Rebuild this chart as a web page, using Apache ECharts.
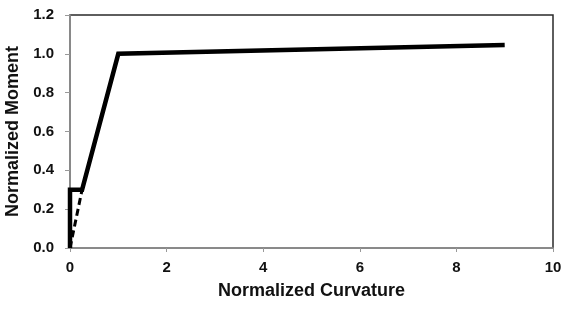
<!DOCTYPE html>
<html>
<head>
<meta charset="utf-8">
<script src="https://cdn.jsdelivr.net/npm/echarts@6/dist/echarts.min.js"></script>
<style>
  html, body { margin: 0; padding: 0; background: #fff; }
  #chart { width: 579px; height: 313px; }
</style>
</head>
<body>
<div id="chart"></div>
<script>
// moment-curvature curve (normalized)
var solidCurvature = [0, 0, 0.25, 1.0, 9.0]
var solidMoment = [0, 0.3, 0.3, 1.0, 1.045]
var dashCurvature = [0, 0.25]
var dashMoment = [0, 0.3]

function pairs(xs, ys) {
  var out = []
  for (var i = 0; i < xs.length; i++) out.push([xs[i], ys[i]])
  return out
}

var labelFont = { fontFamily: 'Liberation Sans, Arial, sans-serif', fontWeight: 'bold', fontSize: 15, color: '#111' }

var myChart = echarts.init(document.getElementById('chart'))
var option = {
  animation: false,
  grid: {
    left: 70, right: 26, top: 15, bottom: 65,
    outerBoundsMode: 'none', containLabel: false,
    show: true, borderColor: '#2a2a2a', borderWidth: 1.5, backgroundColor: '#fff'
  },
  xAxis: {
    type: 'value', min: 0, max: 10, interval: 2,
    name: 'Normalized Curvature', nameLocation: 'middle', nameGap: 34,
    nameTextStyle: Object.assign({}, labelFont, { fontSize: 18 }),
    axisLine: { show: true, onZero: false, lineStyle: { color: '#999', width: 1.5 } },
    axisTick: { show: true, length: 4, lineStyle: { color: '#999' } },
    axisLabel: Object.assign({ margin: 12 }, labelFont),
    splitLine: { show: false }
  },
  yAxis: {
    type: 'value', min: 0, max: 1.2, interval: 0.2,
    name: 'Normalized Moment', nameLocation: 'middle', nameGap: 46,
    nameTextStyle: Object.assign({}, labelFont, { fontSize: 18 }),
    axisLine: { show: true, lineStyle: { color: '#999', width: 1.5 } },
    axisTick: { show: true, length: 5, lineStyle: { color: '#999' } },
    axisLabel: Object.assign({ margin: 16, formatter: function (v) { return v.toFixed(1) } }, labelFont),
    splitLine: { show: false }
  },
  series: [
    {
      type: 'line', data: pairs(dashCurvature, dashMoment), showSymbol: false,
      lineStyle: { color: '#000', width: 3, type: [7, 4] }
    },
    {
      type: 'line', data: pairs(solidCurvature, solidMoment), showSymbol: false,
      lineStyle: { color: '#000', width: 4.5, join: 'miter' }
    }
  ]
}
myChart.setOption(option)
</script>
</body>
</html>
